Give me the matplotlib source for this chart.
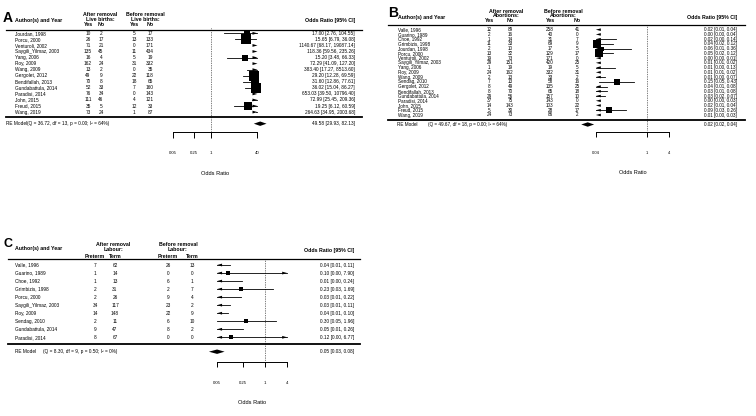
import numpy as np
import matplotlib.pyplot as plt

plt.rcParams['font.family'] = ['Liberation Sans', 'DejaVu Sans']

# ---------------- A : live births
a_authors = ["Jourdan, 1998", "Porcu, 2000", "Venturoli, 2002", "Saygili_Yilmaz, 2003",
             "Yang, 2006", "Roy, 2009", "Wang, 2009", "Gergolet, 2012", "Bendifallah, 2013",
             "Gundabattula, 2014", "Paradisi, 2014", "John, 2015", "Freud, 2015", "Wang, 2019"]
a_after_yes = [10, 26, 71, 135, 16, 162, 13, 49, 70, 52, 76, 111, 35, 73]
a_after_no = [2, 17, 21, 45, 4, 24, 2, 9, 8, 33, 34, 46, 5, 24]
a_before_yes = [5, 13, 0, 11, 5, 31, 0, 22, 18, 7, 0, 4, 12, 1]
a_before_no = [17, 133, 171, 434, 19, 332, 35, 118, 65, 160, 143, 121, 33, 87]
a_or = [17.00, 15.65, 1140.67, 118.36, 15.20, 72.29, 383.40, 29.20, 31.60, 36.02,
        653.03, 72.99, 19.25, 264.63]
a_lo = [2.76, 6.79, 68.17, 59.56, 3.48, 41.09, 17.27, 12.28, 12.86, 15.04,
        39.50, 25.45, 6.12, 34.95]
a_hi = [104.55, 36.08, 19087.14, 235.26, 66.33, 127.20, 8513.60, 69.59, 77.61, 86.27,
        10796.40, 209.36, 60.59, 2003.68]
a_re = [49.58, 29.93, 82.13]
a_het = "(Q = 36.72, df = 13, p = 0.00; I² = 64%)"
a_groups = ["After removal\nLive births:", "Before removal\nLive births:"]
a_cols = ["Yes", "No", "Yes", "No"]
a_ticks = [0.05, 0.25, 1, 40]

# ---------------- B : abortions
b_authors = ["Valle, 1996", "Guarino, 1989", "Choe, 1992", "Grimbizis, 1998", "Jourdan, 1998",
             "Porcu, 2000", "Venturoli, 2002", "Saygili_Yilmaz, 2003", "Yang, 2006", "Roy, 2009",
             "Wang, 2009", "Sendag, 2010", "Gergolet, 2012", "Bendifallah, 2013",
             "Gundabattula, 2014", "Paradisi, 2014", "John, 2015", "Freud, 2015", "Wang, 2019"]
b_after_yes = [12, 2, 1, 11, 2, 13, 19, 29, 1, 24, 2, 7, 8, 8, 29, 37, 14, 5, 24]
b_after_no = [89, 16, 14, 33, 10, 32, 73, 151, 19, 162, 13, 13, 49, 70, 56, 75, 143, 30, 73]
b_before_yes = [258, 40, 31, 69, 17, 129, 171, 420, 19, 332, 33, 58, 135, 65, 157, 143, 103, 28, 86]
b_before_no = [41, 0, 7, 9, 5, 17, 0, 25, 5, 31, 2, 16, 25, 18, 10, 0, 22, 17, 2]
b_or = [0.02, 0.00, 0.02, 0.044, 0.06, 0.05, 0.00, 0.01, 0.01, 0.01, 0.01, 0.15, 0.037,
        0.03, 0.03, 0.00, 0.02, 0.09, 0.01]
b_lo = [0.01, 0.00, 0.00, 0.02, 0.01, 0.02, 0.00, 0.01, 0.00, 0.01, 0.00, 0.05, 0.01,
        0.01, 0.02, 0.00, 0.01, 0.03, 0.00]
b_hi = [0.04, 0.04, 0.14, 0.12, 0.36, 0.12, 0.01, 0.02, 0.13, 0.02, 0.07, 0.43, 0.08,
        0.08, 0.07, 0.03, 0.04, 0.26, 0.03]
b_re = [0.024, 0.016, 0.036]
b_het = "(Q = 49.67, df = 18, p = 0.00; I² = 64%)"
b_groups = ["After removal\nAbortions:", "Before removal\nAbortions:"]
b_cols = ["Yes", "No", "Yes", "No"]
b_ticks = [0.04, 1, 4]

# ---------------- C : labour
c_authors = ["Valle, 1996", "Guarino, 1989", "Choe, 1992", "Grimbizis, 1998", "Porcu, 2000",
             "Saygili_Yilmaz, 2003", "Roy, 2009", "Sendag, 2010", "Gundabattula, 2014",
             "Paradisi, 2014"]
c_after_pre = [7, 1, 1, 2, 2, 34, 14, 2, 9, 8]
c_after_term = [62, 14, 13, 31, 26, 117, 148, 11, 47, 67]
c_before_pre = [26, 0, 6, 2, 9, 23, 22, 6, 8, 0]
c_before_term = [13, 0, 1, 7, 4, 2, 9, 10, 2, 0]
c_or = [0.04, 0.10, 0.01, 0.23, 0.03, 0.03, 0.04, 0.30, 0.046, 0.12]
c_lo = [0.01, 0.00, 0.00, 0.03, 0.01, 0.01, 0.01, 0.05, 0.01, 0.00]
c_hi = [0.11, 7.90, 0.24, 1.69, 0.22, 0.11, 0.10, 1.96, 0.26, 6.77]
c_re = [0.05, 0.03, 0.08]
c_het = "(Q = 8.30, df = 9, p = 0.50; I² = 0%)"
c_groups = ["After removal\nLabour:", "Before removal\nLabour:"]
c_cols = ["Preterm", "Term", "Preterm", "Term"]
c_ticks = [0.05, 0.25, 1, 4]

W, H = 756, 416
fig = plt.figure(figsize=(W / 100, H / 100), dpi=100)


def square_sizes(a, b, c, d):
    # random-effects weights rescaled to 0.5 .. 1.5 like metafor
    a, b, c, d = (np.asarray(v, float) for v in (a, b, c, d))
    cc = ((a == 0) | (b == 0) | (c == 0) | (d == 0)) * 0.5
    a, b, c, d = a + cc, b + cc, c + cc, d + cc
    yi = np.log(a * d / (b * c))
    vi = 1 / a + 1 / b + 1 / c + 1 / d
    w = 1 / vi
    q = np.sum(w * (yi - np.sum(w * yi) / w.sum()) ** 2)
    tau2 = max(0.0, (q - len(yi) + 1) / (w.sum() - np.sum(w ** 2) / w.sum()))
    p = 1 / (vi + tau2)
    p = p / p.sum()
    return (p - p.min()) / (p.max() - p.min()) + 0.5


def forest(lay, letter, authors, counts, groups, cols, ors, los, his, re, het, ticks):
    x0, y0, x1, y1 = lay['box']
    zero, sc, row1, step = lay['zero'], lay['scale'], lay['row1'], lay['step']
    ax = fig.add_axes([x0 / W, 1 - y1 / H, (x1 - x0) / W, (y1 - y0) / H])
    ax.set_xlim((x0 - zero) / sc, (x1 - zero) / sc)
    ax.set_ylim(1 - (y1 - row1) / step, 1 + (row1 - y0) / step)
    ax.axis('off')

    def X(px):
        return (px - zero) / sc

    def Y(py):
        return 1 + (row1 - py) / step

    fs = lay['fs']
    hfs = lay['hfs']
    rows = np.arange(len(authors), 0, -1)

    # header
    ax.text(X(lay['letter'][0]), Y(lay['letter'][1]), letter, fontsize=lay['letter_fs'],
            fontweight='bold', ha='left', va='center')
    ax.text(X(lay['name_x']), Y(lay['name_y']), "Author(s) and Year", fontsize=hfs,
            fontweight='bold', va='center')
    for g, gx in zip(groups, lay['group_x']):
        for line, gy in zip(g.split("\n"), lay['group_y']):
            ax.text(X(gx), Y(gy), line, fontsize=hfs, fontweight='bold', ha='center', va='center')
    for cname, cx in zip(cols, lay['col_x']):
        ax.text(X(cx), Y(lay['colhead_y']), cname, fontsize=hfs, fontweight='bold',
                ha='center', va='center')
    ax.text(X(lay['or_x']), Y(lay['orhead_y']), "Odds Ratio [95% CI]", fontsize=hfs,
            fontweight='bold', ha='right', va='center')

    rx = [X(lay['rule_x'][0]), X(lay['rule_x'][1])]
    ax.plot(rx, [Y(lay['top_rule'])] * 2, color='k', lw=0.9)
    ax.plot(rx, [Y(lay['bottom_rule'])] * 2, color='k', lw=1.3)
    ax.plot([0, 0], [Y(lay['dot'][0]), Y(lay['dot'][1])], color='k', lw=0.5, ls=(0, (1, 1.5)))

    # table
    for y, name in zip(rows, authors):
        ax.text(X(lay['name_x']), y, name, fontsize=fs, va='center')
    for col, cx in zip(counts, lay['col_x']):
        for y, v in zip(rows, col):
            ax.text(X(cx), y, str(v), fontsize=fs, ha='center', va='center')

    # forest
    lo_t, hi_t = ticks[0], ticks[-1]
    al = lay['arrow'][0] / sc
    ah = lay['arrow'][1] / step
    ors, los, his = (np.asarray(v, float) for v in (ors, los, his))
    cl = np.log(np.clip(los, lo_t, hi_t))
    ch = np.log(np.clip(his, lo_t, hi_t))
    psize = square_sizes(*counts)
    for y, l, h, o, lr, hr, ps in zip(rows, cl, ch, ors, los, his, psize):
        if h > l:
            ax.plot([l, h], [y, y], color='k', lw=0.6)
        if hr > hi_t:
            e = np.log(hi_t)
            ax.fill([e - al, e, e - al], [y + ah, y, y - ah], color='k', lw=0)
        if lr < lo_t:
            e = np.log(lo_t)
            ax.fill([e + al, e, e + al], [y + ah, y, y - ah], color='k', lw=0)
        if lo_t <= o <= hi_t:
            ax.plot(np.log(o), y, marker='s', ms=ps * lay['sq'] * 0.72, color='k', mew=0)
        ax.text(X(lay['or_x']), y, f"{o:.2f} [{lr:.2f}, {hr:.2f}]", fontsize=fs,
                ha='right', va='center')

    # summary
    yre = Y(lay['re_y'])
    e, l, h = np.log(re)
    dh = lay['diamond'] / step
    ax.fill([l, e, h, e], [yre, yre + dh, yre, yre - dh], color='k', lw=0)
    ax.text(X(lay['re_x']), yre, "RE Model", fontsize=fs, va='center')
    ax.text(X(lay['het_x']), yre, het, fontsize=fs, va='center')
    ax.text(X(lay['or_x']), yre, f"{re[0]:.2f} [{re[1]:.2f}, {re[2]:.2f}]", fontsize=fs,
            ha='right', va='center')

    # axis
    ya = Y(lay['axis_y'])
    lt = np.log(ticks)
    ax.plot([lt[0], lt[-1]], [ya, ya], color='k', lw=0.7)
    ax.vlines(lt, ya - lay['tick_len'] / step, ya, color='k', lw=0.7)
    for t, v in zip(lt, ticks):
        ax.text(t, Y(lay['ticklab_y']), f"{v:g}", fontsize=fs - 0.3, ha='center', va='center')
    ax.text((lt[0] + lt[-1]) / 2, Y(lay['xlab_y']), "Odds Ratio", fontsize=fs + 0.7,
            ha='center', va='center')


lay_a = dict(box=(0, 0, 378, 215), zero=211, scale=12.6, row1=112.1, step=6.06,
             fs=3.4, hfs=3.8, letter=(3, 18), letter_fs=10, name_x=15, name_y=20.5,
             group_x=[100, 145], group_y=[14.5, 19.5], col_x=[88, 101, 134, 150],
             colhead_y=24, or_x=355, orhead_y=20.5, rule_x=(6, 362), top_rule=30,
             bottom_rule=116.7, dot=(28, 131), re_y=123.7, re_x=6, het_x=27,
             axis_y=132, tick_len=5.5, ticklab_y=153, xlab_y=173,
             arrow=(5, 1.4), diamond=2.2, sq=7)
lay_b = dict(box=(378, 0, 756, 215), zero=647, scale=15.9, row1=115, step=4.74,
             fs=3.3, hfs=3.8, letter=(388, 13), letter_fs=10, name_x=398, name_y=18,
             group_x=[506, 563], group_y=[11.5, 15.5], col_x=[489, 510, 550, 577],
             colhead_y=21, or_x=737, orhead_y=17, rule_x=(388, 745), top_rule=25,
             bottom_rule=120, dot=(25, 131), re_y=124.5, re_x=397, het_x=428,
             axis_y=131.7, tick_len=5.5, ticklab_y=153, xlab_y=173,
             arrow=(5, 1.3), diamond=2.2, sq=6)
lay_c = dict(box=(0, 225, 378, 416), zero=265, scale=16.0, row1=337.3, step=8.03,
             fs=3.4, hfs=3.8, letter=(4, 244), letter_fs=9, name_x=15, name_y=248.5,
             group_x=[113, 178], group_y=[244, 249.5], col_x=[95, 115, 168, 192],
             colhead_y=256, or_x=354, orhead_y=250.7, rule_x=(8, 360), top_rule=259,
             bottom_rule=344.3, dot=(259, 361), re_y=351.7, re_x=15, het_x=43,
             axis_y=361.5, tick_len=5.5, ticklab_y=383, xlab_y=402,
             arrow=(5, 1.4), diamond=2.2, sq=6.5)

forest(lay_a, "A", a_authors, [a_after_yes, a_after_no, a_before_yes, a_before_no],
       a_groups, a_cols, a_or, a_lo, a_hi, a_re, a_het, a_ticks)
forest(lay_b, "B", b_authors, [b_after_yes, b_after_no, b_before_yes, b_before_no],
       b_groups, b_cols, b_or, b_lo, b_hi, b_re, b_het, b_ticks)
forest(lay_c, "C", c_authors, [c_after_pre, c_after_term, c_before_pre, c_before_term],
       c_groups, c_cols, c_or, c_lo, c_hi, c_re, c_het, c_ticks)

fig.savefig("out.png", dpi=100)
